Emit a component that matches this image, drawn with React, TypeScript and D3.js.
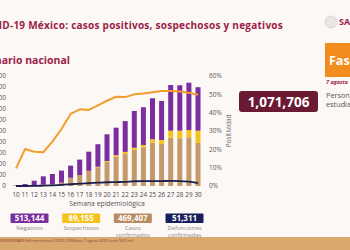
import { useEffect, useRef } from 'react';
import * as d3 from 'd3';

// weekly data (values in persons)
const weeks = [10, 11, 12, 13, 14, 15, 16, 17, 18, 19, 20, 21, 22, 23, 24, 25, 26, 27, 28, 29, 30];
const confirmed = [200, 300, 800, 1200, 1800, 3000, 7500, 10000, 13600, 17000, 22000, 26500, 29000, 32700, 35200, 39400, 38200, 43900, 43400, 44300, 39100];
const suspected = [0, 0, 0, 0, 0, 0, 0, 0, 200, 500, 700, 1500, 2000, 2100, 2100, 3100, 3600, 6400, 6900, 6600, 11200];
const negative = [400, 1500, 4000, 7600, 9100, 11000, 11000, 14000, 17400, 20500, 24300, 25000, 28000, 33400, 34300, 37300, 35500, 41500, 41300, 43000, 39500];
const deaths = [0, 0, 100, 300, 600, 1000, 1600, 2200, 2600, 3000, 3400, 3600, 3800, 4300, 4400, 4400, 4500, 4600, 4500, 3900, 2600];
const positivity = [9.6, 20.2, 18.7, 18.4, 24.2, 31.1, 39.3, 41.8, 41.5, 44, 46.5, 48.7, 48.5, 50, 50.4, 51.1, 51.8, 51.8, 51.6, 50.9, 49.8];

const leftTicks = [0, 10000, 20000, 30000, 40000, 50000, 60000, 70000, 80000, 90000, 100000];
const rightTicks = [0, 10, 20, 30, 40, 50, 60];

const legendItems = [
  { value: '513,144', label: ['Negativos'], color: '#7b2f9f' },
  { value: '89,155', label: ['Sospechosos'], color: '#f4c21b' },
  { value: '469,407', label: ['Casos', 'confirmados'], color: '#b98b5e' },
  { value: '51,311', label: ['Defunciones', 'confirmadas'], color: '#17205c' },
];

const FONT = 'Open Sans, sans-serif';

const App = () => {
  const svgRef = useRef<SVGSVGElement>(null);

  useEffect(() => {
    if (!svgRef.current) return;
    const svg = d3.select(svgRef.current);
    svg.selectAll('*').remove();

    svg.append('rect').attr('width', 350).attr('height', 250).attr('fill', '#fcf8f6');

    // header (partly cut off at the left edge, as in the source slide)
    svg.append('text')
      .attr('x', 283).attr('y', 29).attr('text-anchor', 'end')
      .attr('font-family', FONT).attr('font-weight', 700).attr('font-size', 10)
      .attr('letter-spacing', 0.25)
      .attr('fill', '#9b2247')
      .text('COVID-19 México: casos positivos, sospechosos y negativos');
    svg.append('text')
      .attr('x', 70).attr('y', 64).attr('text-anchor', 'end')
      .attr('font-family', FONT).attr('font-weight', 700).attr('font-size', 10.5)
      .attr('fill', '#9b2247')
      .text('Escenario nacional');

    // logo
    svg.append('circle').attr('cx', 331).attr('cy', 22).attr('r', 6)
      .attr('fill', '#ece6e2').attr('stroke', '#d8cfc8').attr('stroke-width', 0.8);
    svg.append('text').attr('x', 339).attr('y', 25)
      .attr('font-family', FONT).attr('font-weight', 700).attr('font-size', 9)
      .attr('fill', '#9b2247').text('SALUD');

    // orange phase box
    svg.append('rect').attr('x', 325).attr('y', 43).attr('width', 30).attr('height', 34).attr('fill', '#f28c1c');
    svg.append('text').attr('x', 329).attr('y', 65)
      .attr('font-family', FONT).attr('font-weight', 700).attr('font-size', 12.5)
      .attr('fill', '#fff').text('Fase');
    svg.append('text').attr('x', 326).attr('y', 84)
      .attr('font-family', FONT).attr('font-weight', 700).attr('font-style', 'italic').attr('font-size', 5.5)
      .attr('fill', '#9b2247').text('7 agosto');

    // total box
    svg.append('rect').attr('x', 239).attr('y', 91).attr('width', 79).attr('height', 21).attr('rx', 3)
      .attr('fill', '#6a1a32');
    svg.append('text').attr('x', 278.5).attr('y', 106.5).attr('text-anchor', 'middle')
      .attr('font-family', FONT).attr('font-weight', 700).attr('font-size', 13.5)
      .attr('fill', '#fff').text('1,071,706');
    ['Personas', 'estudiadas'].forEach((t, i) => {
      svg.append('text').attr('x', 326).attr('y', 98 + i * 8.5)
        .attr('font-family', FONT).attr('font-size', 7.3)
        .attr('fill', '#555').text(t);
    });

    // scales
    const x = d3.scalePoint<number>().domain(weeks).range([16, 198]);
    const yL = d3.scaleLinear().domain([0, 100000]).range([186, 76]);
    const yR = d3.scaleLinear().domain([0, 60]).range([186, 76]);
    const barW = 5;

    // left axis labels (clipped by page edge)
    svg.append('g').selectAll('text').data(leftTicks).join('text')
      .attr('x', 6).attr('y', d => yL(d) + 2.3).attr('text-anchor', 'end')
      .attr('font-family', FONT).attr('font-size', 6.5).attr('fill', '#555')
      .text(d => d3.format(',')(d));

    // right axis labels
    svg.append('g').selectAll('text').data(rightTicks).join('text')
      .attr('x', 209).attr('y', d => yR(d) + 2.3)
      .attr('font-family', FONT).attr('font-size', 6.5).attr('fill', '#555')
      .text(d => `${d}%`);
    svg.append('text')
      .attr('transform', `translate(231,${yR(30)}) rotate(-90)`)
      .attr('text-anchor', 'middle')
      .attr('font-family', FONT).attr('font-size', 6.5).attr('fill', '#666')
      .text('Positividad');

    // stacked bars
    const rows = weeks.map((w, i) => ({ week: w, confirmed: confirmed[i], suspected: suspected[i], negative: negative[i] }));
    const stack = d3.stack<any>().keys(['confirmed', 'suspected', 'negative'])(rows);
    const barColors: Record<string, string> = { confirmed: '#c49a6c', suspected: '#f5c41c', negative: '#7a2e9f' };
    stack.forEach(layer => {
      svg.append('g').selectAll('rect').data(layer).join('rect')
        .attr('x', d => (x(d.data.week) as number) - barW / 2)
        .attr('width', barW)
        .attr('y', d => yL(d[1]))
        .attr('height', d => yL(d[0]) - yL(d[1]))
        .attr('fill', barColors[layer.key]);
    });

    // positivity line
    const posLine = d3.line<number>()
      .x((_, i) => x(weeks[i]) as number)
      .y(d => yR(d));
    svg.append('path').attr('d', posLine(positivity) || '')
      .attr('fill', 'none').attr('stroke', '#f29e2c').attr('stroke-width', 2).attr('stroke-linejoin', 'round');

    // deaths line
    const deathLine = d3.line<number>()
      .x((_, i) => x(weeks[i]) as number)
      .y(d => yL(d))
      .curve(d3.curveMonotoneX);
    svg.append('path').attr('d', deathLine(deaths) || '')
      .attr('fill', 'none').attr('stroke', '#1a1f4e').attr('stroke-width', 1.8);

    // week labels
    svg.append('g').selectAll('text').data(weeks).join('text')
      .attr('x', d => x(d) as number).attr('y', 197).attr('text-anchor', 'middle')
      .attr('font-family', FONT).attr('font-size', 6.3).attr('fill', '#444')
      .text(d => d);
    svg.append('text').attr('x', 107).attr('y', 206).attr('text-anchor', 'middle')
      .attr('font-family', FONT).attr('font-size', 6.8).attr('fill', '#555')
      .text('Semana epidemiológica');

    // legend
    const lx = d3.scalePoint<number>().domain(d3.range(legendItems.length)).range([29.5, 184.5]);
    legendItems.forEach((item, i) => {
      const cx = lx(i) as number;
      svg.append('rect').attr('x', cx - 19).attr('y', 213.5).attr('width', 38).attr('height', 9.5).attr('rx', 1)
        .attr('fill', item.color);
      svg.append('text').attr('x', cx).attr('y', 221).attr('text-anchor', 'middle')
        .attr('font-family', FONT).attr('font-weight', 700).attr('font-size', 8)
        .attr('fill', '#fff').text(item.value);
      item.label.forEach((t, j) => {
        svg.append('text').attr('x', cx).attr('y', 230 + j * 6.5).attr('text-anchor', 'middle')
          .attr('font-family', FONT).attr('font-size', 5.8).attr('fill', '#8a8a8a').text(t);
      });
    });

    // footer band
    svg.append('rect').attr('x', 0).attr('y', 237).attr('width', 350).attr('height', 13).attr('fill', '#d9a86c');
    svg.append('text').attr('x', 0).attr('y', 242)
      .attr('font-family', FONT).attr('font-size', 3.6).attr('fill', '#8b3a2e')
      .text('SISVER/SINAVE/Informe técnico COVID-19 México: 7 agosto 2020 (corte 9:00 hrs)');
  }, []);

  return (
    <div style={{ position: 'absolute', left: 0, top: 0 }}>
      <svg ref={svgRef} width={350} height={250} style={{ display: 'block' }} />
    </div>
  );
};

export default App;
